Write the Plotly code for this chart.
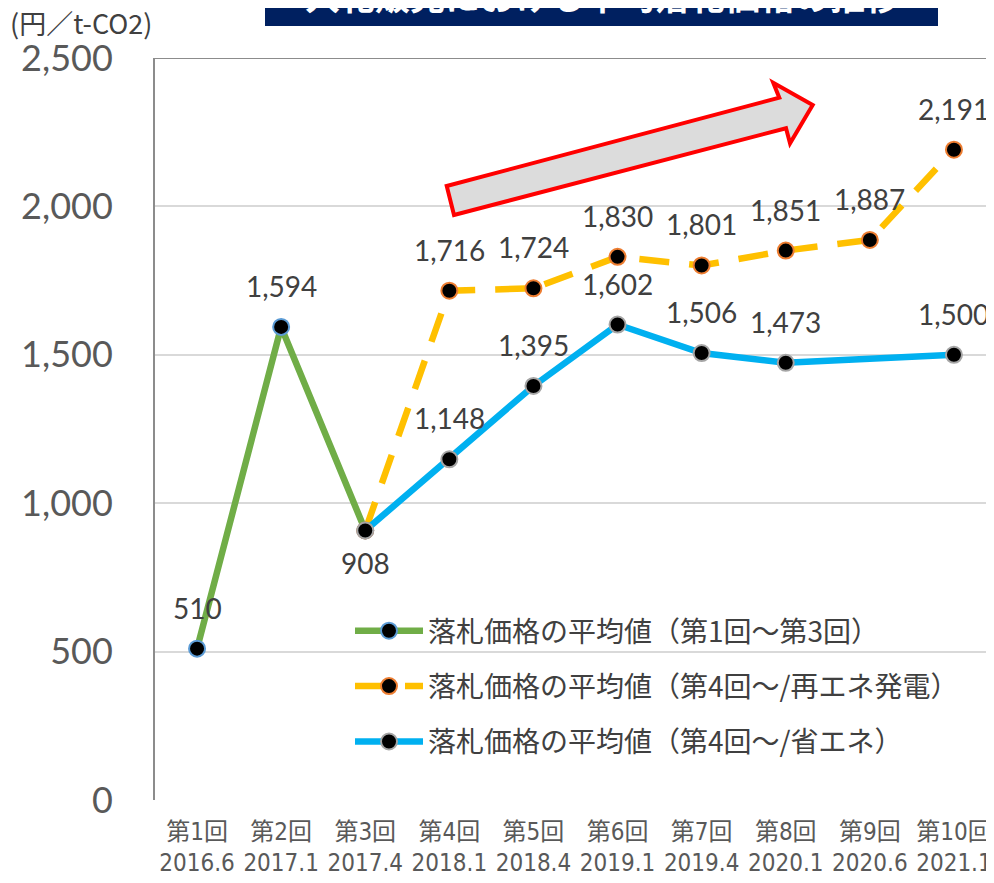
import plotly.graph_objects as go

# ---- data ----
rounds = ["第1回", "第2回", "第3回", "第4回", "第5回", "第6回", "第7回", "第8回", "第9回", "第10回"]
dates = ["2016.6", "2017.1", "2017.4", "2018.1", "2018.4", "2019.1", "2019.4", "2020.1", "2020.6", "2021.1"]
avg_round1_3 = [510, 1594, 908, None, None, None, None, None, None, None]
avg_renewable = [None, None, 908, 1716, 1724, 1830, 1801, 1851, 1887, 2191]
avg_energy_saving = [None, None, 908, 1148, 1395, 1602, 1506, 1473, None, 1500]
series_names = [
    "落札価格の平均値（第1回〜第3回）",
    "落札価格の平均値（第4回〜/再エネ発電）",
    "落札価格の平均値（第4回〜/省エネ）",
]
y_ticks = [0, 500, 1000, 1500, 2000, 2500]
title_text = "入札販売における平均落札価格の推移"
unit_text = "(円／t-CO2)"

# ---- layout geometry (pixels; page body has an 8px offset) ----
OFF = 8
W, H = 994 - OFF, 883 - OFF
L, R, T, B = 155 - OFF, 0, 58 - OFF, 83
PW, PH = W - L - R, H - T - B
CAT = 84.1


def paper(xp, yp):
    """reference-picture pixel -> paper coordinates"""
    xp, yp = xp - OFF, yp - OFF
    return (xp - L) / PW, (H - B - yp) / PH


x_idx = list(range(len(rounds)))
tick_text = [f"{r}<br>{d}" for r, d in zip(rounds, dates)]

line_colors = ["#70AD47", "#FFC000", "#00B0F0"]
edge_colors = ["#5B9BD5", "#ED7D31", "#A5A5A5"]
dashes = ["solid", "30px,20px", "solid"]
series = [avg_round1_3, avg_renewable, avg_energy_saving]

JP = "Noto Sans CJK JP"
NUM = "Lato, Carlito, Noto Sans, sans-serif"

fig = go.Figure()
for i, (vals, name) in enumerate(zip(series, series_names)):
    fig.add_trace(go.Scatter(
        x=x_idx, y=vals, name=name, mode="lines+markers",
        connectgaps=True, legendgroup=f"g{i}",
        line=dict(color=line_colors[i], width=6.5, dash=dashes[i]),
        marker=dict(color="black", size=16, line=dict(color=edge_colors[i], width=2)),
        hoverinfo="skip",
    ))

# data labels
annotations = []
seen = set()
for vals in series:
    for xi, v in zip(x_idx, vals):
        if v is None or (xi, v) in seen:
            continue
        seen.add((xi, v))
        below = v == 908
        annotations.append(dict(
            x=xi, y=v, xref="x", yref="y", text=f"{v:,}", showarrow=False,
            yshift=-32 if below else 41,
            font=dict(family=NUM, size=28, color="#404040"),
        ))

ux, uy = paper(8, 22)
annotations.append(dict(x=ux, y=uy, xref="paper", yref="paper", xanchor="left", yanchor="middle",
                        text=unit_text, showarrow=False,
                        font=dict(family=JP, size=27, color="#404040")))
tx, ty = paper(602, -5)
annotations.append(dict(x=tx, y=ty, xref="paper", yref="paper", xanchor="center", yanchor="middle",
                        text=f"<b>{title_text}</b>", showarrow=False,
                        font=dict(family=JP, size=35, color="white")))

shapes = []
bx0, by0 = paper(265, 26)
bx1, by1 = paper(938, -30)
shapes.append(dict(type="rect", xref="paper", yref="paper", x0=bx0, x1=bx1, y0=by0, y1=by1,
                   fillcolor="#002060", line=dict(width=0), layer="below"))
# top border line at the axis maximum
shapes.append(dict(type="line", xref="paper", yref="y", x0=0, x1=1, y0=y_ticks[-1], y1=y_ticks[-1],
                   line=dict(color="#8C8C8C", width=2)))
# decorative trend arrow
arrow_px = [(446.7, 186), (779.3, 97.7), (773.3, 82.7), (812.7, 105),
            (790, 143.3), (786, 128.3), (454, 215)]
pts = [paper(a, b) for a, b in arrow_px]
path = "M " + " L ".join(f"{a:.4f},{b:.4f}" for a, b in pts) + " Z"
shapes.append(dict(type="path", xref="paper", yref="paper", path=path,
                   fillcolor="#DCDCDC", line=dict(color="#FF0000", width=4), layer="above"))

lx, ly = paper(350, 606)
fig.update_layout(
    width=W, height=H,
    margin=dict(l=L, r=R, t=T, b=B, pad=0),
    paper_bgcolor="white", plot_bgcolor="white",
    showlegend=True,
    legend=dict(x=lx, y=ly, xanchor="left", yanchor="top", bgcolor="rgba(0,0,0,0)",
                font=dict(family=JP, size=28, color="#404040"),
                tracegroupgap=16, itemwidth=68, traceorder="grouped"),
    annotations=annotations, shapes=shapes,
    xaxis=dict(range=[-0.5, -0.5 + PW / CAT], tickmode="array", tickvals=x_idx, ticktext=tick_text,
               showgrid=False, zeroline=False, showline=False, ticks="",
               ticklabelstandoff=15, ticklabeloverflow="allow",
               tickfont=dict(family="Liberation Sans Narrow, DejaVu Sans Condensed, " + JP,
                             size=24, color="#595959"),
               fixedrange=True),
    yaxis=dict(range=[0, 2500], tickmode="array", tickvals=y_ticks,
               ticktext=[f"{v:,}" for v in y_ticks],
               showgrid=True, gridcolor="#D9D9D9", gridwidth=2, zeroline=False,
               showline=True, linecolor="#8C8C8C", linewidth=2, ticks="",
               ticklabelstandoff=33,
               tickfont=dict(family=NUM, size=36, color="#595959"), fixedrange=True),
)

fig.write_html("out.html")
